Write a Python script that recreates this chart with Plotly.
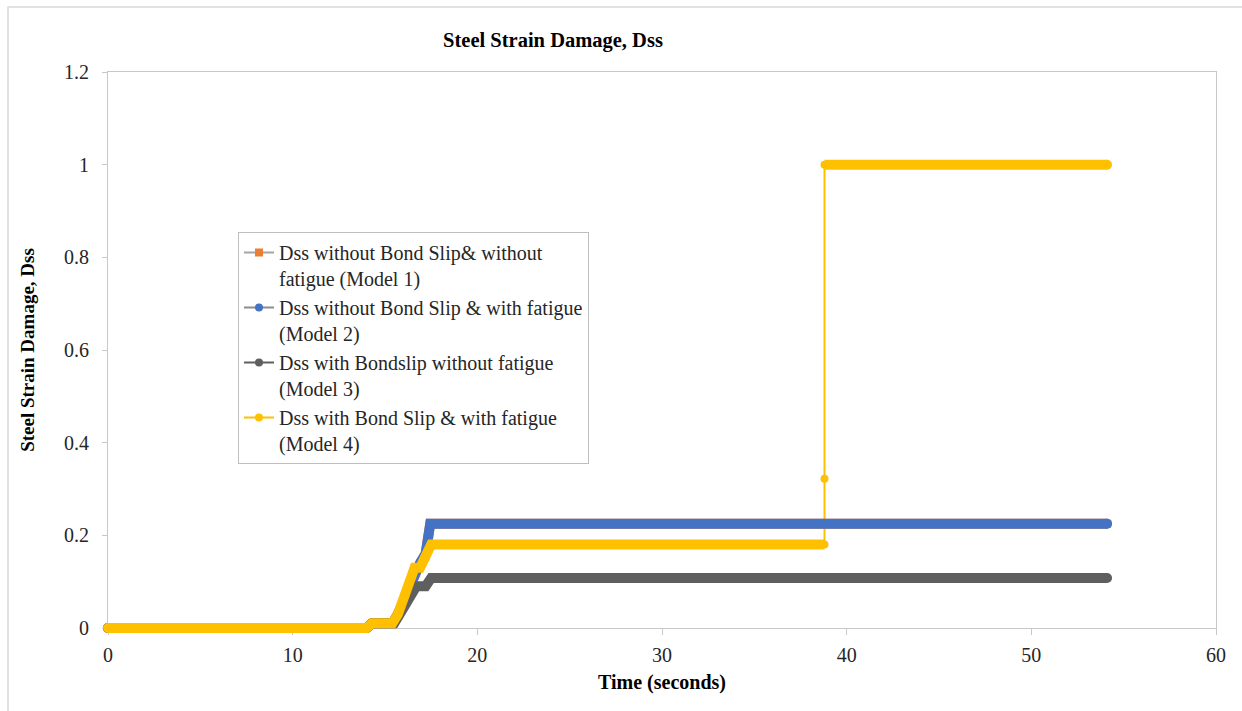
import plotly.graph_objects as go

# ---------------- data ----------------
t_m1 = [0, 14.0, 14.3, 15.4, 15.7, 16.0, 16.3, 16.6, 16.9, 17.2, 17.35, 17.45, 54.1]
d_m1 = [0, 0, 0.01, 0.01, 0.03, 0.06, 0.09, 0.12, 0.14, 0.16, 0.20, 0.225, 0.225]

t_m2 = [0, 14.0, 14.3, 15.4, 15.7, 16.0, 16.3, 16.6, 16.9, 17.2, 17.35, 17.45, 54.1]
d_m2 = [0, 0, 0.01, 0.01, 0.03, 0.06, 0.09, 0.12, 0.14, 0.16, 0.20, 0.225, 0.225]

t_m3 = [0, 14.0, 14.3, 15.5, 15.8, 16.1, 16.4, 16.7, 17.2, 17.5, 54.1]
d_m3 = [0, 0, 0.01, 0.01, 0.03, 0.05, 0.07, 0.09, 0.09, 0.108, 0.108]

t_m4 = [0, 14.0, 14.3, 15.4, 15.7, 16.0, 16.3, 16.6, 16.9, 17.2, 17.5, 38.8, 38.8, 38.8, 54.1]
d_m4 = [0, 0, 0.01, 0.01, 0.03, 0.06, 0.09, 0.13, 0.13, 0.15, 0.18, 0.18, 0.322, 1.0, 1.0]

names = [
    "Dss without Bond Slip& without<br>fatigue (Model 1)",
    "Dss without Bond Slip & with fatigue<br>(Model 2)",
    "Dss with Bondslip without fatigue<br>(Model 3)",
    "Dss with Bond Slip & with fatigue<br>(Model 4)",
]
x_ticks = [0, 10, 20, 30, 40, 50, 60]
y_ticks = [0, 0.2, 0.4, 0.6, 0.8, 1, 1.2]
y_tick_text = ["0", "0.2", "0.4", "0.6", "0.8", "1", "1.2"]

# ---------------- styles ----------------
marker_colors = ["#ED7D31", "#4472C4", "#5F5F5F", "#FFC000"]
line_colors = ["#A5A5A5", "#8C8C8C", "#5F5F5F", "#FFC000"]
symbols = ["square", "circle", "circle", "circle"]
FONT = '"Liberation Serif", "Times New Roman", Times, serif'

# layout geometry (pixels)
W, H = 1242, 711
PAD = 10  # extra data area around the visible frame so thick bands are not clipped
L, R, T, B = 108, 1216, 72, 628
XMIN, XMAX, YMIN, YMAX = 0, 60, 0, 1.2
px_x = (R - L) / (XMAX - XMIN)
px_y = (B - T) / (YMAX - YMIN)
ml, mr, mt, mb = L - PAD, W - R - PAD, T - PAD, H - B - PAD
pw, ph = W - ml - mr, H - mt - mb

fig = go.Figure()

# dummy trace for visible frame axes
fig.add_trace(go.Scatter(x=[XMIN], y=[YMIN], mode="markers", marker=dict(opacity=0),
                         showlegend=False, hoverinfo="skip", xaxis="x", yaxis="y"))

series = [(t_m1, d_m1), (t_m2, d_m2), (t_m3, d_m3), (t_m4, d_m4)]

# thin lines (legend entries)
for i, (t, d) in enumerate(series):
    fig.add_trace(go.Scatter(
        x=t, y=d, name=names[i], mode="lines+markers",
        line=dict(color=line_colors[i], width=2),
        marker=dict(color=marker_colors[i], size=8, symbol=symbols[i],
                    line=dict(width=0)),
        xaxis="x2", yaxis="y2", legendgroup=f"g{i}", cliponaxis=False,
    ))

# thick bands (dense markers in the original)
for i, (t, d) in enumerate(series):
    xs, ys = [t[0]], [d[0]]
    for k in range(1, len(t)):
        if abs(d[k] - d[k - 1]) > 0.1:
            xs.append(None)
            ys.append(None)
        xs.append(t[k])
        ys.append(d[k])
    fig.add_trace(go.Scatter(
        x=xs, y=ys, mode="lines", showlegend=False, hoverinfo="skip",
        line=dict(color=marker_colors[i], width=10),
        xaxis="x2", yaxis="y2", legendgroup=f"g{i}", connectgaps=False,
    ))
    # rounded ends
    fig.add_trace(go.Scatter(
        x=[t[0], t[-1]], y=[d[0], d[-1]], mode="markers", showlegend=False,
        hoverinfo="skip", marker=dict(color=marker_colors[i], size=10, line=dict(width=0)),
        xaxis="x2", yaxis="y2", cliponaxis=False,
    ))

axis_col = "#C8C8C8"
tick_font = dict(family=FONT, size=20, color="#262626")

fig.update_layout(
    width=W, height=H,
    margin=dict(l=ml, r=mr, t=mt, b=mb, autoexpand=False),
    paper_bgcolor="white",
    plot_bgcolor="rgba(0,0,0,0)",
    font=dict(family=FONT),
    title=dict(text="<b>Steel Strain Damage, Dss</b>", x=553 / W, xanchor="center",
               y=1 - 40 / H, yanchor="middle", yref="container", xref="container",
               font=dict(family=FONT, size=20.5, color="black")),
    xaxis=dict(
        domain=[PAD / pw, 1 - PAD / pw], range=[XMIN, XMAX],
        tickvals=x_ticks, ticktext=[str(v) for v in x_ticks],
        showgrid=False, zeroline=False, showline=True, mirror=True,
        linecolor=axis_col, linewidth=1, ticks="outside", ticklen=6,
        tickcolor=axis_col, tickfont=tick_font, ticklabelstandoff=3,
        title=dict(text="<b>Time (seconds)</b>", font=dict(family=FONT, size=20, color="black"),
                   standoff=9),
        anchor="y", fixedrange=True, automargin=False,
    ),
    yaxis=dict(
        domain=[PAD / ph, 1 - PAD / ph], range=[YMIN, YMAX],
        tickvals=y_ticks, ticktext=y_tick_text,
        showgrid=False, zeroline=False, showline=True, mirror=True,
        linecolor=axis_col, linewidth=1, ticks="outside", ticklen=5,
        tickcolor=axis_col, tickfont=tick_font, ticklabelstandoff=9,
        title=dict(text="<b>Steel Strain Damage, Dss</b>",
                   font=dict(family=FONT, size=19, color="black"), standoff=24),
        anchor="x", fixedrange=True, automargin=False,
    ),
    xaxis2=dict(domain=[0, 1], range=[XMIN - PAD / px_x, XMAX + PAD / px_x],
                visible=False, anchor="y2", fixedrange=True),
    yaxis2=dict(domain=[0, 1], range=[YMIN - PAD / px_y, YMAX + PAD / px_y],
                visible=False, anchor="x2", fixedrange=True),
    legend=dict(
        x=(238 - ml) / pw, y=(H - mb - 232) / ph, xanchor="left", yanchor="top",
        bordercolor="#BFBFBF", borderwidth=1, bgcolor="white",
        font=dict(family=FONT, size=20, color="#262626"),
        tracegroupgap=0, valign="top", itemwidth=30,
    ),
    showlegend=True,
)

# outer chart-area frame
fig.add_shape(type="rect", xref="paper", yref="paper",
              x0=(8 - ml) / pw, x1=(W + 5 - ml) / pw,
              y0=(H - mb - (H + 5)) / ph, y1=(H - mb - 7) / ph,
              line=dict(color="#D9D9D9", width=1.5), layer="below")

fig.write_html("out.html")
